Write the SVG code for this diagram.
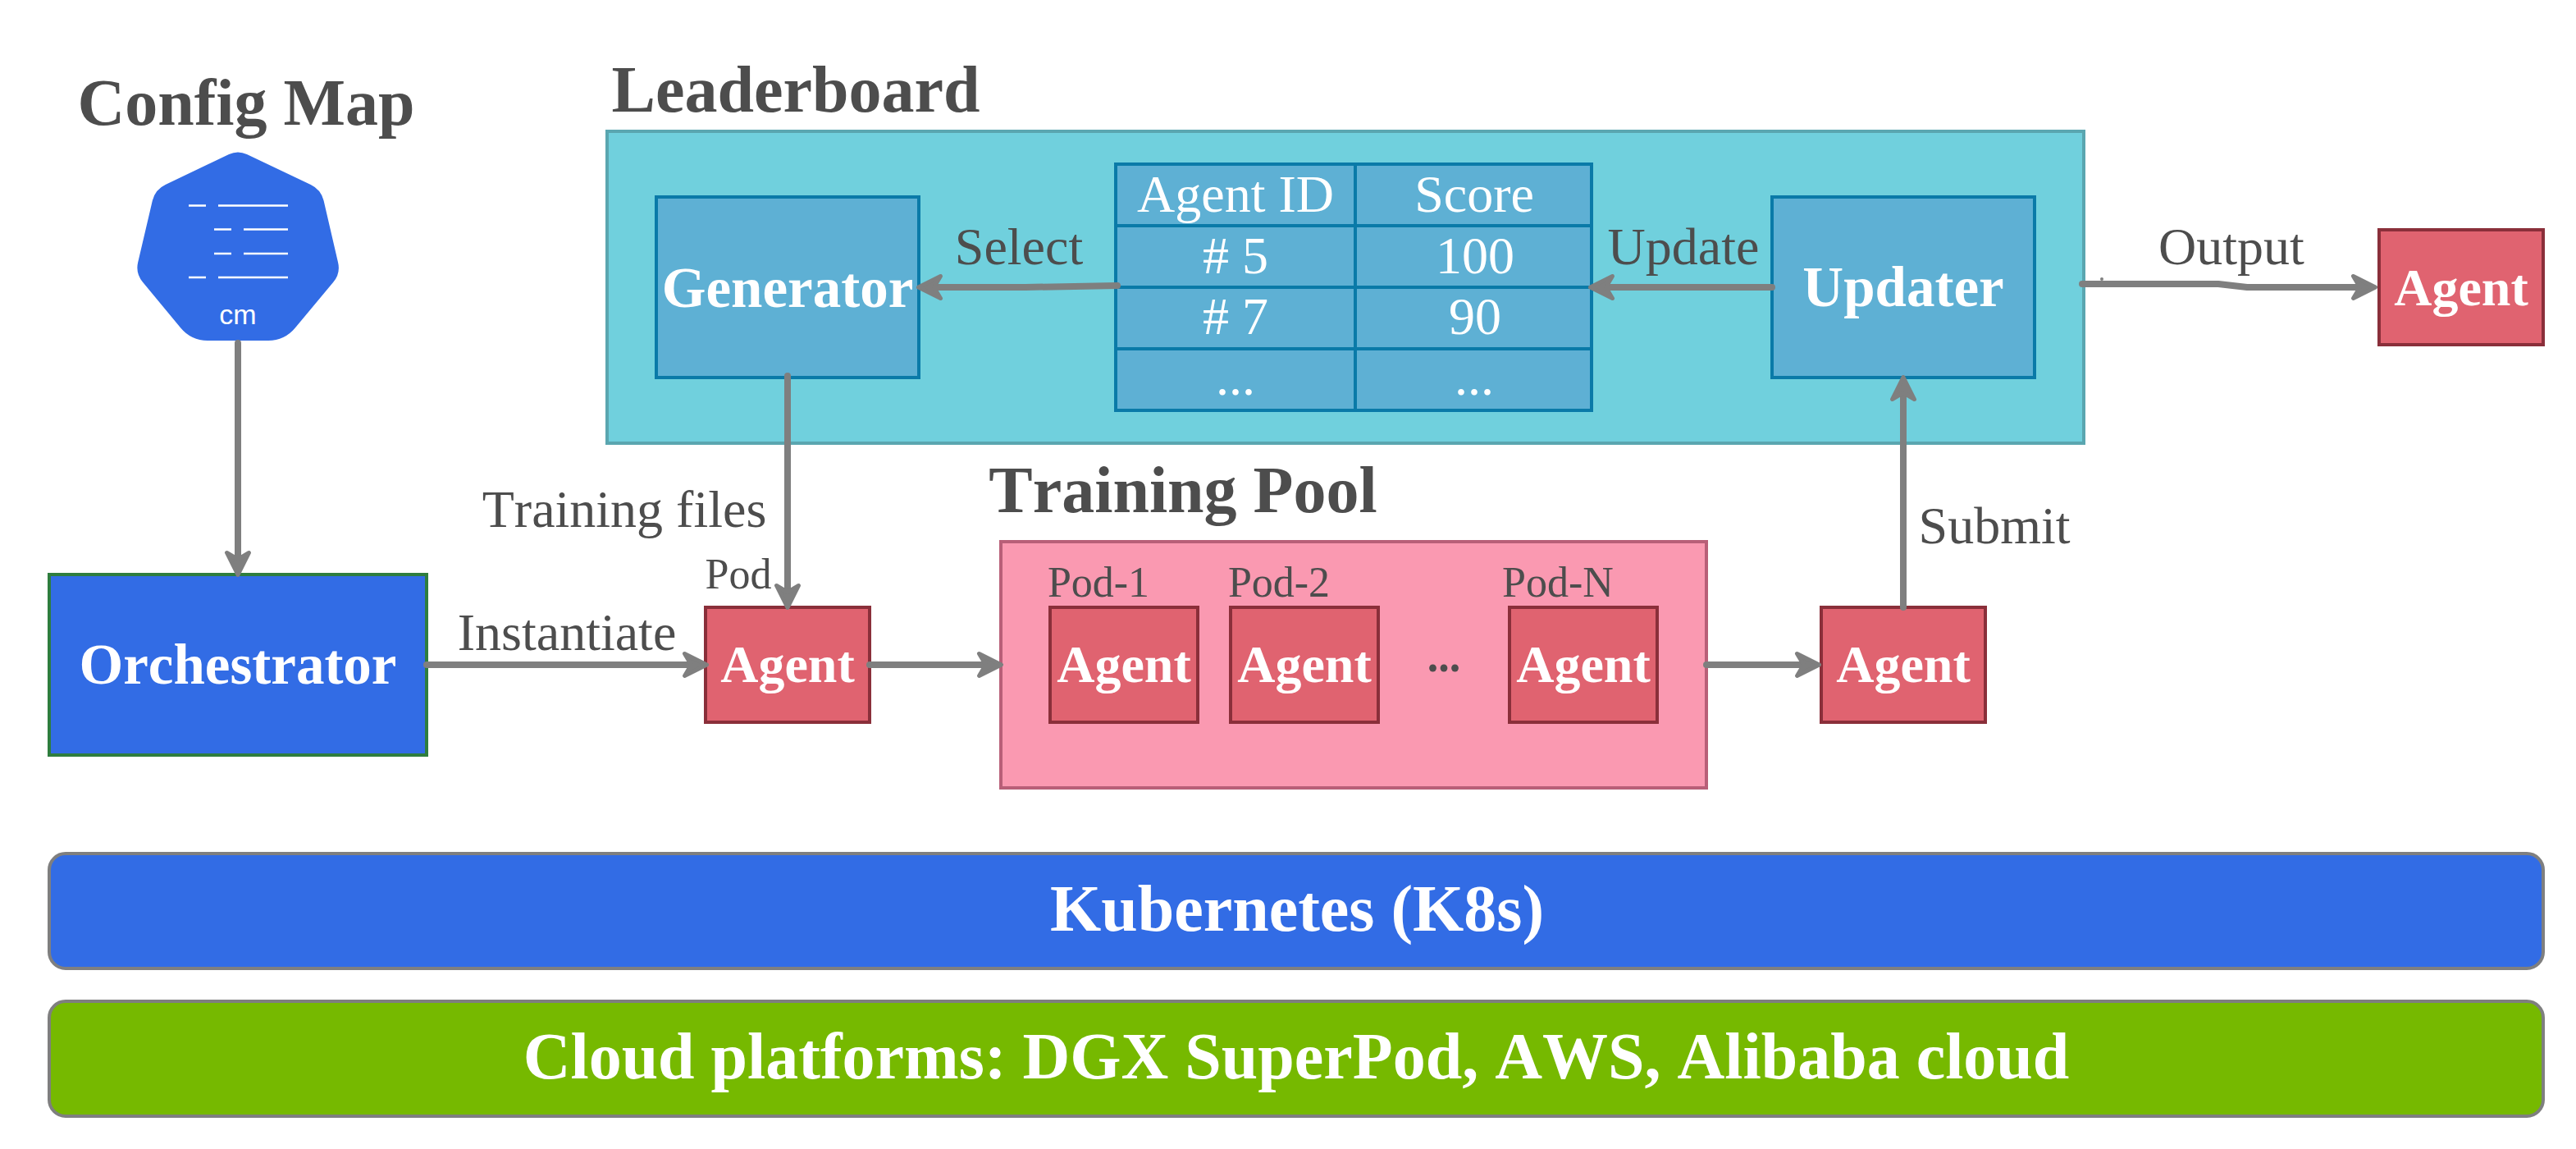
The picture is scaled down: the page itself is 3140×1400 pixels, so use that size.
<svg xmlns="http://www.w3.org/2000/svg" width="3140" height="1400" viewBox="0 0 3140 1400">
<defs>
<style>
text{font-family:"Liberation Serif","Times New Roman",serif;text-anchor:middle;font-kerning:none}
.t{font-size:80px;font-weight:bold;fill:#4d4d4d}
.w{font-weight:bold;fill:#fff}
.l{font-size:64px;fill:#4d4d4d}
.c{font-size:64px;fill:#fff}
.p{font-size:52px;fill:#4d4d4d}
.a{fill:#e06370;stroke:#8a2f3a;stroke-width:4}
.b{fill:#5eb0d4;stroke:#0a7aa8;stroke-width:4}
.bar{stroke:#7f7f7f;stroke-width:4}
.cn{fill:none;stroke:#7f7f7f;stroke-width:8;stroke-linecap:round;stroke-linejoin:round}
</style>
<marker id="arr" markerUnits="userSpaceOnUse" markerWidth="44" markerHeight="44" refX="26" refY="22" orient="auto">
<path d="M7 8.500 L34 22 L7 35.500 L15 22 Z" fill="#7f7f7f" stroke="#7f7f7f" stroke-width="5" stroke-linejoin="round"/>
</marker>
</defs>
<g id="configmap">
<path d="M279.100 188.100Q290 183 300.900 188.100L378.700 225Q391.400 231 394.600 244.600L412 319.400Q415.300 333 406.300 343.800L359.800 399.600Q347 415 327 415L253 415Q233 415 220.200 399.600L174 343.800Q165 333 168.200 319.400L185.800 244.600Q189 231 201.700 225Z" fill="#326ce5"/>
<path d="M230 250.500H251M266 250.500H351M261 279.500H282M297 279.500H351M261 309H282M297 309H351M230 338H251M266 338H351" stroke="#fff" stroke-width="2.500" fill="none"/>
<text x="290" y="395" style="font-family:'Liberation Sans',Arial,sans-serif;font-size:34px" fill="#fff">cm</text>
<text class="t" x="300" y="152">Config Map</text>
</g>
<g id="leaderboard">
<rect x="740" y="160" width="1800" height="380" fill="#70d0dd" stroke="#5aa6b0" stroke-width="4"/>
<text class="t" x="970" y="136">Leaderboard</text>
</g>
<g id="generator"><rect class="b" x="800" y="240" width="320" height="220"/><text class="w" x="960" y="374" font-size="69">Generator</text></g>
<g id="table">
<rect class="b" x="1360" y="200" width="580" height="300"/>
<path d="M1360 275H1940M1360 350H1940M1360 425H1940M1652 200V500" fill="none" stroke="#0a7aa8" stroke-width="4"/>
<text class="c" x="1506" y="258">Agent ID</text><text class="c" x="1797" y="258">Score</text>
<text class="c" x="1506" y="333"># 5</text><text class="c" x="1798" y="333">100</text>
<text class="c" x="1506" y="407"># 7</text><text class="c" x="1798" y="407">90</text>
<text class="c" x="1506" y="481">...</text><text class="c" x="1797" y="481">...</text>
</g>
<g id="updater"><rect class="b" x="2160" y="240" width="320" height="220"/><text class="w" x="2320" y="373" font-size="69">Updater</text></g>
<g id="agent-out"><rect class="a" x="2900" y="280" width="200" height="140"/><text class="w" x="3000" y="372" font-size="64">Agent</text></g>
<g id="orchestrator"><rect x="60" y="700" width="460" height="220" fill="#326ce5" stroke="#2e7d3e" stroke-width="4"/><text class="w" x="290" y="833" font-size="69">Orchestrator</text></g>
<g id="agent-pod"><rect class="a" x="860" y="740" width="200" height="140"/><text class="w" x="960" y="831" font-size="64">Agent</text><text class="p" x="900" y="717">Pod</text></g>
<g id="pool">
<rect x="1220" y="660" width="860" height="300" fill="#fa99b1" stroke="#b85f78" stroke-width="4"/>
<text class="t" x="1442" y="624">Training Pool</text>
</g>
<g id="pod1"><rect class="a" x="1280" y="740" width="180" height="140"/><text class="w" x="1370" y="831" font-size="64">Agent</text><text class="p" x="1339" y="727">Pod-1</text></g>
<g id="pod2"><rect class="a" x="1500" y="740" width="180" height="140"/><text class="w" x="1590" y="831" font-size="64">Agent</text><text class="p" x="1559" y="727">Pod-2</text></g>
<text x="1760" y="818" font-size="54" font-weight="bold" fill="#4d4d4d">...</text>
<g id="podn"><rect class="a" x="1840" y="740" width="180" height="140"/><text class="w" x="1930" y="831" font-size="64">Agent</text><text class="p" x="1899" y="727">Pod-N</text></g>
<g id="agent-done"><rect class="a" x="2220" y="740" width="200" height="140"/><text class="w" x="2320" y="831" font-size="64">Agent</text></g>
<g id="k8s"><rect class="bar" x="60" y="1040" width="3040" height="140" rx="20" fill="#326ce5"/><text class="w" x="1581" y="1134" font-size="80">Kubernetes (K8s)</text></g>
<g id="cloud"><rect class="bar" x="60" y="1220" width="3040" height="140" rx="20" fill="#76b900"/><text class="w" x="1580" y="1314" font-size="80">Cloud platforms: DGX SuperPod, AWS, Alibaba cloud</text></g>
<g id="connectors" class="cn">
<path marker-end="url(#arr)" d="M290 418V692.500"/>
<path marker-end="url(#arr)" d="M520 810H853.500"/>
<path marker-end="url(#arr)" d="M960 458V732.500"/>
<path marker-end="url(#arr)" d="M1060 810H1212.500"/>
<path marker-end="url(#arr)" d="M2080 810H2209.500"/>
<path marker-end="url(#arr)" d="M2320 740V467.500"/>
<path marker-end="url(#arr)" d="M1362 348L1250 350H1127.500"/>
<path marker-end="url(#arr)" d="M2160 350H1946.500"/>
<path marker-end="url(#arr)" d="M2538 346H2704L2739 350H2887.500"/>
<circle cx="2562" cy="340" r="2" fill="#7f7f7f" stroke="none"/>
</g>
<g id="labels">
<text class="l" x="761" y="642">Training files</text>
<text class="l" x="691" y="792">Instantiate</text>
<text class="l" x="1242" y="322">Select</text>
<text class="l" x="2052" y="322">Update</text>
<text class="l" x="2720" y="322">Output</text>
<text class="l" x="2431" y="662">Submit</text>
</g>
</svg>
